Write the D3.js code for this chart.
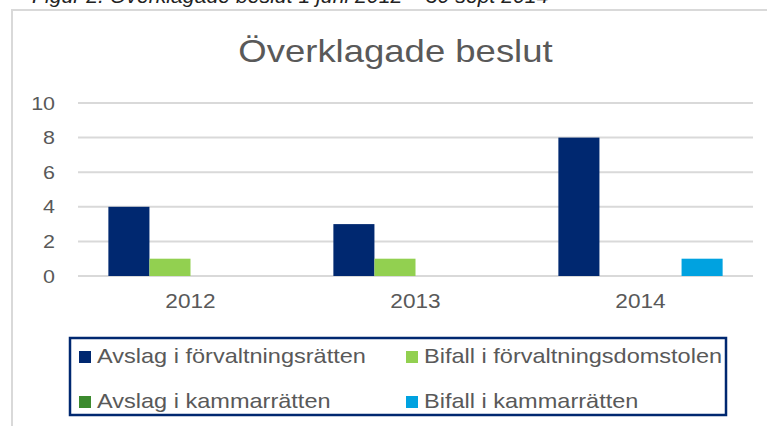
<!DOCTYPE html>
<html>
<head>
<meta charset="utf-8">
<script src="https://cdn.jsdelivr.net/npm/d3@7"></script>
<style>
body { margin: 0; background: #fff; }
text { font-family: "Liberation Sans", Arial, sans-serif; }
</style>
</head>
<body>
<div id="chart"></div>
<script>
// data
var years = ["2012", "2013", "2014"];
var seriesNames = ["Avslag i förvaltningsrätten", "Bifall i förvaltningsdomstolen", "Avslag i kammarrätten", "Bifall i kammarrätten"];
var seriesColors = ["#002870", "#92D050", "#3C8A2E", "#00A2E0"];
var avslagForvaltning = [4, 3, 8];
var bifallForvaltning = [1, 1, 0];
var avslagKammar = [0, 0, 0];
var bifallKammar = [0, 0, 1];
var yTicks = [0, 2, 4, 6, 8, 10];

var allSeries = [avslagForvaltning, bifallForvaltning, avslagKammar, bifallKammar];

var width = 767, height = 426;
var svg = d3.select("#chart").append("svg")
	.attr("width", width)
	.attr("height", height);

// the source font is a bit wider than Liberation Sans, so stretch texts
function stretch(sel, f){
	sel.each(function(){
		var w = this.getComputedTextLength();
		d3.select(this).attr("textLength", w * f).attr("lengthAdjust", "spacingAndGlyphs");
	});
}

// caption above the frame (cut off at the top)
var caption = svg.append("text")
	.attr("x", 32)
	.attr("y", 3)
	.attr("font-size", 21)
	.attr("font-style", "italic")
	.attr("fill", "#222")
	.text("Figur 2. Överklagade beslut 1 juni 2012 – 30 sept 2014");
stretch(caption, 1.01);

// chart frame
svg.append("rect")
	.attr("x", 12).attr("y", 10)
	.attr("width", 780).attr("height", 440)
	.attr("fill", "#fff")
	.attr("stroke", "#d9d9d9")
	.attr("stroke-width", 2);

var title = svg.append("text")
	.attr("x", 395.5)
	.attr("y", 62)
	.attr("text-anchor", "middle")
	.attr("font-size", 32)
	.attr("fill", "#595959")
	.text("Överklagade beslut");
stretch(title, 1.14);

var x0 = d3.scaleBand().domain(years).range([78, 753]).paddingInner(0.27).paddingOuter(0.135);
var x1 = d3.scaleBand().domain(d3.range(4)).range([0, x0.bandwidth()]);
var y = d3.scaleLinear().domain([0, 10]).range([276, 103]);

// gridlines
svg.append("g").selectAll("line").data(yTicks).enter()
	.append("line")
	.attr("x1", 78).attr("x2", 753)
	.attr("y1", function(d){ return y(d); })
	.attr("y2", function(d){ return y(d); })
	.attr("stroke", "#d9d9d9")
	.attr("stroke-width", 2);

var yAxis = d3.axisLeft(y).tickValues(yTicks).tickSize(0).tickPadding(0);
var gy = svg.append("g").attr("transform", "translate(55,0)").call(yAxis);
gy.select(".domain").remove();
gy.selectAll("text").attr("font-size", 19).attr("fill", "#595959")
	.attr("font-family", "Liberation Sans, Arial, sans-serif");
stretch(gy.selectAll("text"), 1.13);

// bars
var groups = svg.append("g").selectAll("g").data(years).enter()
	.append("g")
	.attr("transform", function(d){ return "translate(" + x0(d) + ",0)"; });

groups.selectAll("rect")
	.data(function(d, i){
		return allSeries.map(function(s, k){ return {k: k, v: s[i]}; });
	})
	.enter().append("rect")
	.attr("x", function(d){ return x1(d.k); })
	.attr("y", function(d){ return y(d.v); })
	.attr("width", x1.bandwidth())
	.attr("height", function(d){ return y(0) - y(d.v); })
	.attr("fill", function(d){ return seriesColors[d.k]; });

var xAxis = d3.axisBottom(x0).tickSize(0).tickPadding(0);
var gx = svg.append("g").attr("transform", "translate(0,0)").call(xAxis);
gx.select(".domain").remove();
gx.selectAll("text").attr("font-size", 20).attr("fill", "#595959")
	.attr("dy", null).attr("y", 308)
	.attr("font-family", "Liberation Sans, Arial, sans-serif");
stretch(gx.selectAll("text"), 1.13);

// legend
var legend = svg.append("g");
legend.append("rect")
	.attr("x", 70).attr("y", 338)
	.attr("width", 656).attr("height", 77)
	.attr("fill", "none")
	.attr("stroke", "#002870")
	.attr("stroke-width", 2.5);

var legendPos = [[79, 363], [406, 363], [79, 408], [406, 408]];
var items = legend.selectAll("g.item").data(seriesNames).enter()
	.append("g").attr("class", "item")
	.attr("transform", function(d, i){ return "translate(" + legendPos[i][0] + "," + legendPos[i][1] + ")"; });
items.append("rect")
	.attr("x", 0).attr("y", -12)
	.attr("width", 12).attr("height", 12)
	.attr("fill", function(d, i){ return seriesColors[i]; });
var legendText = items.append("text")
	.attr("x", 18).attr("y", 0)
	.attr("font-size", 21)
	.attr("fill", "#595959")
	.text(function(d){ return d; });
stretch(legendText, 1.12);
</script>
</body>
</html>
